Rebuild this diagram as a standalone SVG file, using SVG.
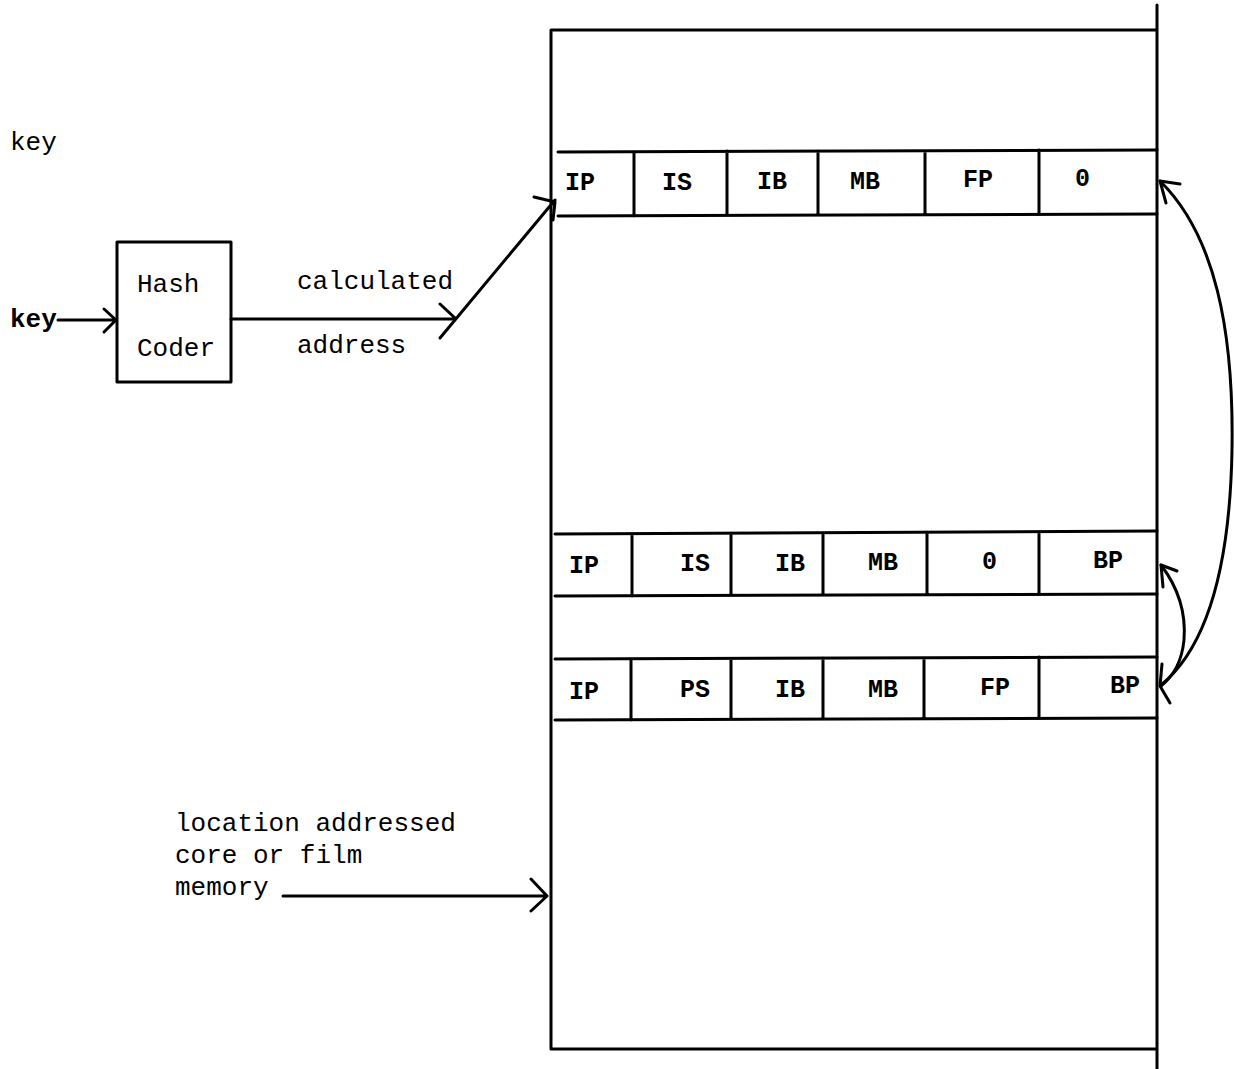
<svg xmlns="http://www.w3.org/2000/svg" width="1234" height="1069" viewBox="0 0 1234 1069">
  <style>
    .ln { stroke: #000; stroke-width: 3; fill: none; stroke-linecap: round; stroke-linejoin: round; }
    .tx { font-family: "Liberation Mono", "DejaVu Sans Mono", monospace; font-size: 26px; fill: #000; }
    .cell { font-family: "Liberation Mono", "DejaVu Sans Mono", monospace; font-size: 25px; font-weight: bold; fill: #000; }
  </style>
  <rect width="1234" height="1069" fill="#fff"/>

  <!-- free labels -->
  <text class="tx" x="10" y="150">key</text>
  <text class="tx" x="10" y="327" font-weight="bold">key</text>
  <text class="tx" x="297" y="289">calculated</text>
  <text class="tx" x="297" y="353">address</text>
  <text class="tx" x="175" y="831">location addressed</text>
  <text class="tx" x="175" y="863">core or film</text>
  <text class="tx" x="175" y="895">memory</text>

  <!-- hash coder -->
  <g id="hash-coder">
    <rect class="ln" x="117" y="242" width="114" height="140"/>
    <text class="tx" x="137" y="292">Hash</text>
    <text class="tx" x="137" y="356">Coder</text>
  </g>

  <!-- memory block -->
  <g id="memory">
    <path class="ln" d="M551,30 L1157,30 M551,30 L551,1049 L1157,1049 M1157,5 L1157,1069"/>
  </g>

  <!-- record row 1 -->
  <g id="row1">
    <path class="ln" d="M558,152 L1157,150 M558,216 L1157,214
      M634,152 L634,216 M727,151 L727,215 M818,151 L818,215 M925,151 L925,215 M1039,150 L1039,214"/>
    <text class="cell" x="565" y="190">IP</text>
    <text class="cell" x="662" y="190">IS</text>
    <text class="cell" x="757" y="189">IB</text>
    <text class="cell" x="850" y="189">MB</text>
    <text class="cell" x="963" y="187">FP</text>
    <text class="cell" x="1075" y="186">0</text>
  </g>

  <!-- record row 2 -->
  <g id="row2">
    <path class="ln" d="M555,534 L1157,531 M555,596 L1157,594
      M632,534 L632,596 M731,533 L731,595 M823,533 L823,595 M927,532 L927,594 M1039,532 L1039,594"/>
    <text class="cell" x="569" y="573">IP</text>
    <text class="cell" x="680" y="571">IS</text>
    <text class="cell" x="775" y="571">IB</text>
    <text class="cell" x="868" y="570">MB</text>
    <text class="cell" x="982" y="569">0</text>
    <text class="cell" x="1093" y="568">BP</text>
  </g>

  <!-- record row 3 -->
  <g id="row3">
    <path class="ln" d="M555,659 L1157,657 M555,720 L1157,718
      M631,659 L631,720 M731,659 L731,719 M823,658 L823,719 M924,658 L924,719 M1039,657 L1039,718"/>
    <text class="cell" x="569" y="699">IP</text>
    <text class="cell" x="680" y="697">PS</text>
    <text class="cell" x="775" y="697">IB</text>
    <text class="cell" x="868" y="697">MB</text>
    <text class="cell" x="980" y="695">FP</text>
    <text class="cell" x="1110" y="693">BP</text>
  </g>

  <!-- connectors -->
  <g id="connectors">
    <!-- key into hash coder -->
    <path class="ln" d="M58,320 L116,320 M104,309 L116,320 L104,332"/>
    <!-- calculated address -->
    <path class="ln" d="M231,319 L455,319 M440,304 L455,318"/>
    <path class="ln" d="M440,338 L555,200 M534,197 L555,202 L553,220"/>
    <!-- memory pointer -->
    <path class="ln" d="M283,896 L547,896 M531,879 L547,896 L531,911"/>
    <!-- link from row 3 back to row 1 -->
    <path class="ln" d="M1160,181 C1215,235 1234,330 1232,450 C1230,560 1210,645 1161,685"/>
    <path class="ln" d="M1180,184 L1160,181 L1166,203"/>
    <!-- link between rows 2 and 3 -->
    <path class="ln" d="M1161,565 C1180,590 1186,615 1184,640 C1182,660 1175,675 1161,686"/>
    <path class="ln" d="M1177,571 L1161,565 L1163,587"/>
    <path class="ln" d="M1162,664 L1160,686 L1170,703"/>
  </g>
</svg>
